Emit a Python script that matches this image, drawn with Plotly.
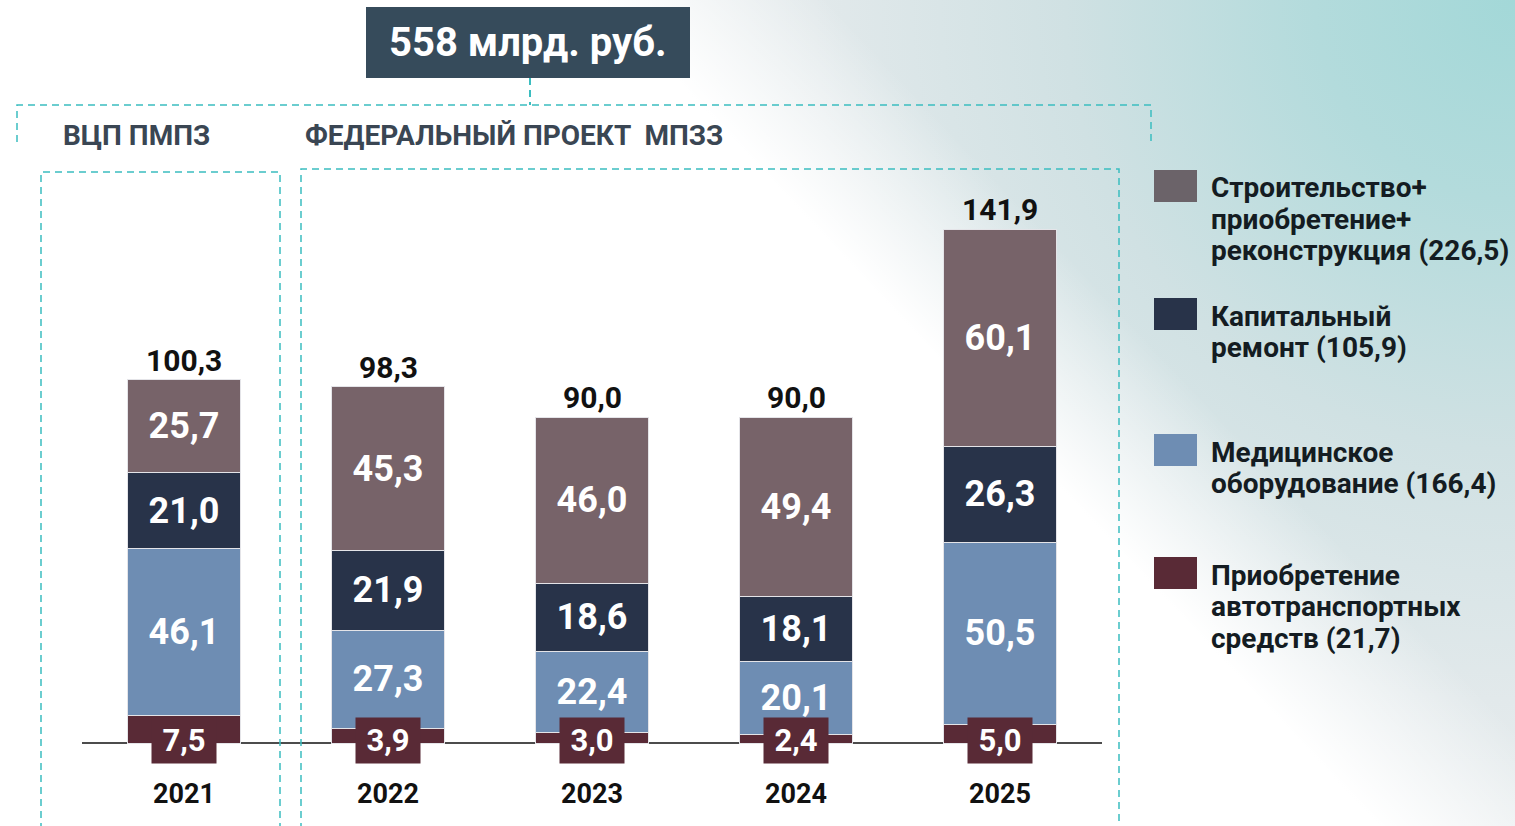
import base64
import plotly.graph_objects as go

# data (млрд. руб.)
years = ["2021", "2022", "2023", "2024", "2025"]
vehicles = [7.5, 3.9, 3.0, 2.4, 5.0]
equipment = [46.1, 27.3, 22.4, 20.1, 50.5]
repair = [21.0, 21.9, 18.6, 18.1, 26.3]
construction = [25.7, 45.3, 46.0, 49.4, 60.1]
totals = [100.3, 98.3, 90.0, 90.0, 141.9]

legend_labels = [
    ["Строительство+", "приобретение+", "реконструкция (226,5)"],
    ["Капитальный", "ремонт (105,9)"],
    ["Медицинское", "оборудование (166,4)"],
    ["Приобретение", "автотранспортных", "средств (21,7)"],
]
header_text = "558 млрд. руб."
group_left = "ВЦП ПМПЗ"
group_right = "ФЕДЕРАЛЬНЫЙ ПРОЕКТ  МПЗЗ"

C_CONS = "#776369"
C_REP = "#283349"
C_EQ = "#6e8db3"
C_VEH = "#592a36"
C_DASH = "#3bbdc0"
DASH = "7px,5px"
FONT = "Roboto"

W, H = 1515, 826
PL, PR = 82, 1102          # plot area in px
BASE = 743                 # baseline px
K = 3.62                   # px per unit


def fmt(v):
    return f"{v:.1f}".replace(".", ",")


def px(x):
    return (x - PL) / (PR - PL)


def py(y):
    return 1 - y / H


fig = go.Figure()
xs = list(range(len(years)))
for name, vals, col in [("Приобретение автотранспортных средств", vehicles, C_VEH),
                        ("Медицинское оборудование", equipment, C_EQ),
                        ("Капитальный ремонт", repair, C_REP),
                        ("Строительство", construction, C_CONS)]:
    fig.add_trace(go.Bar(
        x=xs, y=vals, name=name, marker_color=col,
        marker_line=dict(color="#e4e4e8", width=1),
        text=None if col == C_VEH else [f"<b>{fmt(v)}</b>" for v in vals],
        textposition="inside", insidetextanchor="middle", textangle=0,
        textfont=dict(family=FONT, size=36, color="white"),
        width=0.555, showlegend=False, hoverinfo="skip",
    ))

ann = []
for i, (yr, t, v) in enumerate(zip(years, totals, vehicles)):
    ann.append(dict(x=i, y=t, text=f"<b>{fmt(t)}</b>", showarrow=False, yanchor="bottom", yshift=0,
                    font=dict(family=FONT, size=30, color="#111")))
    ann.append(dict(x=i, y=0.6, text=f"<b>{fmt(v)}</b>", showarrow=False, width=62, height=43,
                    yanchor="middle", bgcolor=C_VEH, font=dict(family=FONT, size=31, color="white")))
    ann.append(dict(x=i, y=-14.0, text=f"<b>{yr}</b>", showarrow=False, yanchor="middle",
                    font=dict(family=FONT, size=27, color="#111")))

# header
ann.append(dict(xref="paper", yref="paper", x=px(528), y=py(43), yanchor="middle", text=f"<b>{header_text}</b>",
                showarrow=False, font=dict(family=FONT, size=40, color="white")))
ann.append(dict(xref="paper", yref="paper", x=px(61), y=py(135), xanchor="left", yanchor="middle",
                text=f"<b>{group_left}</b>", showarrow=False, font=dict(family=FONT, size=28, color="#3a4653")))
ann.append(dict(xref="paper", yref="paper", x=px(303), y=py(135), xanchor="left", yanchor="middle",
                text=f"<b>{group_right}</b>", showarrow=False, font=dict(family=FONT, size=28, color="#3a4653")))

shapes = [
    dict(type="rect", xref="paper", yref="paper", x0=px(366), x1=px(690), y0=py(7), y1=py(78),
         fillcolor="#364b5b", line_width=0),
    dict(type="line", xref="paper", yref="paper", x0=px(530), x1=px(530), y0=py(78), y1=py(105),
         line=dict(color=C_DASH, width=2, dash=DASH)),
    dict(type="path", xref="paper", yref="paper",
         path=f"M{px(17)},{py(142)} L{px(17)},{py(105)} L{px(1151)},{py(105)} L{px(1151)},{py(142)}",
         line=dict(color=C_DASH, width=1.5, dash=DASH)),
    dict(type="path", xref="paper", yref="paper",
         path=f"M{px(41)},{py(830)} L{px(41)},{py(172)} L{px(280)},{py(172)} L{px(280)},{py(830)}",
         line=dict(color=C_DASH, width=1.5, dash=DASH)),
    dict(type="path", xref="paper", yref="paper",
         path=f"M{px(301)},{py(830)} L{px(301)},{py(169)} L{px(1119)},{py(169)} L{px(1119)},{py(830)}",
         line=dict(color=C_DASH, width=1.5, dash=DASH)),
    dict(type="line", x0=-0.5, x1=4.5, y0=0, y1=0, line=dict(color="#111", width=1.5), layer="below"),
]

# legend
legend_colors = ["#6b6369", C_REP, C_EQ, C_VEH]
legend_tops = [170, 298, 434, 557]
for lines, col, top in zip(legend_labels, legend_colors, legend_tops):
    shapes.append(dict(type="rect", xref="paper", yref="paper", x0=px(1154), x1=px(1197),
                       y0=py(top), y1=py(top + 32), fillcolor=col, line_width=0))
    for j, line in enumerate(lines):
        ann.append(dict(xref="paper", yref="paper", x=px(1209), y=py(top + 18 + 31.5 * j),
                        xanchor="left", yanchor="middle", text=f"<b>{line}</b>", showarrow=False,
                        font=dict(family=FONT, size=28, color="#141c22")))

# background: teal glow in the top-right corner, white to the left of a diagonal
svg = f"""<svg xmlns='http://www.w3.org/2000/svg' width='{W}' height='{H}'>
<defs><radialGradient id='g' gradientUnits='userSpaceOnUse' cx='1515' cy='0' r='1000'>
<stop offset='0' stop-color='#a3d8d8'/><stop offset='0.2' stop-color='#b3dbdc'/>
<stop offset='0.45' stop-color='#d0e1e3'/><stop offset='0.7' stop-color='#e2e9eb'/>
<stop offset='1' stop-color='#f0f2f3'/>
</radialGradient>
<linearGradient id='m' gradientUnits='userSpaceOnUse' x1='990' y1='413' x2='1110' y2='300'>
<stop offset='0' stop-color='#ffffff' stop-opacity='1'/><stop offset='1' stop-color='#ffffff' stop-opacity='0'/>
</linearGradient></defs>
<rect width='{W}' height='{H}' fill='url(#g)'/><rect width='{W}' height='{H}' fill='url(#m)'/></svg>"""
bg = "data:image/svg+xml;base64," + base64.b64encode(svg.encode()).decode()

fig.update_layout(
    width=W, height=H, barmode="stack",
    margin=dict(l=PL, r=W - PR, t=0, b=0, pad=0),
    paper_bgcolor="white", plot_bgcolor="rgba(0,0,0,0)",
    xaxis=dict(range=[-0.5, 4.5], visible=False),
    yaxis=dict(range=[-(H - BASE) / K, BASE / K], visible=False),
    annotations=ann, shapes=shapes,
    images=[dict(source=bg, xref="paper", yref="paper", x=px(0), y=1, sizex=W / (PR - PL), sizey=1,
                 xanchor="left", yanchor="top", sizing="stretch", layer="below")],
)

fig.write_html("out.html", config={"displayModeBar": False},
               post_script="document.body.style.margin='0';")
